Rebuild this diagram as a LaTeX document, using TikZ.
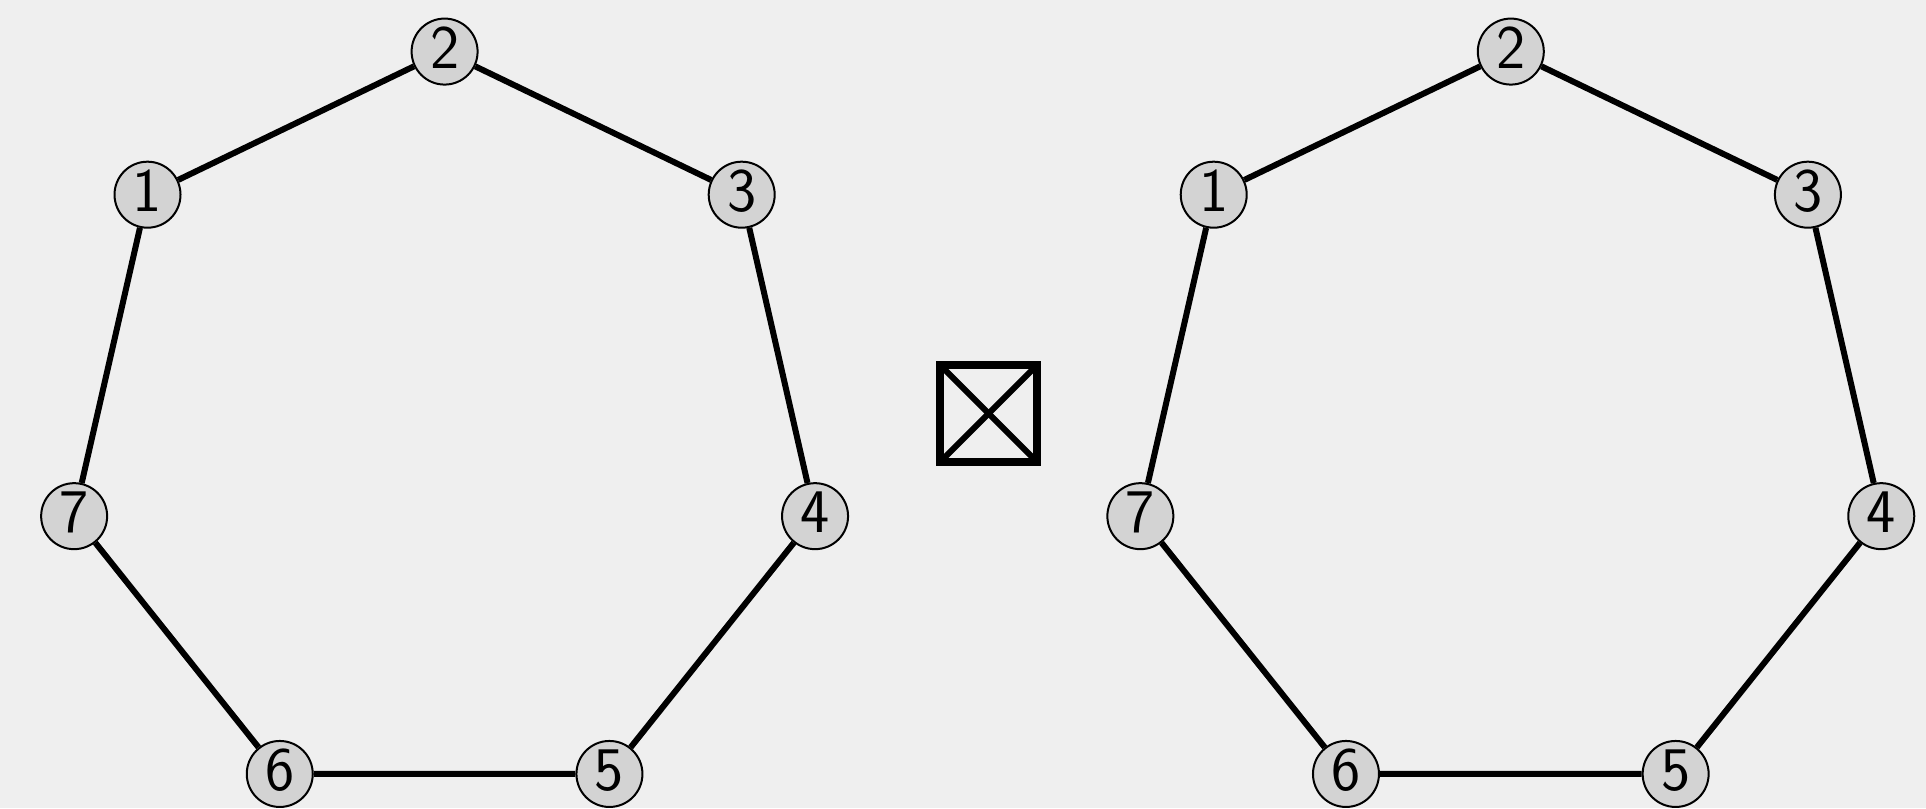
\documentclass[tikz,border=0pt]{standalone}
\usepackage{fontspec}
\definecolor{bgc}{HTML}{EFEFEF}
\definecolor{nodec}{HTML}{D3D3D3}
\tikzset{
  vtx/.style={circle, draw=black, line width=1pt, fill=nodec, minimum size=33pt, inner sep=0pt,
    text depth=4pt, font=\sffamily\fontsize{31}{34}\selectfont},
  edg/.style={line width=3pt, black},
}
\begin{document}
\begin{tikzpicture}[x=1pt,y=1pt]
\fill[bgc] (0,0) rectangle (963,404);
\useasboundingbox (0,0) rectangle (963,404);
% left graph
\node[vtx] (L2) at ([shift={(222.3,188.2)}]90:190) {2};
\node[vtx] (L1) at ([shift={(222.3,188.2)}]141.43:190) {1};
\node[vtx] (L7) at ([shift={(222.3,188.2)}]192.86:190) {7};
\node[vtx] (L6) at ([shift={(222.3,188.2)}]244.29:190) {6};
\node[vtx] (L5) at ([shift={(222.3,188.2)}]295.71:190) {5};
\node[vtx] (L4) at ([shift={(222.3,188.2)}]347.14:190) {4};
\node[vtx] (L3) at ([shift={(222.3,188.2)}]38.57:190) {3};
% right graph
\node[vtx] (R2) at ([shift={(755.4,188.2)}]90:190) {2};
\node[vtx] (R1) at ([shift={(755.4,188.2)}]141.43:190) {1};
\node[vtx] (R7) at ([shift={(755.4,188.2)}]192.86:190) {7};
\node[vtx] (R6) at ([shift={(755.4,188.2)}]244.29:190) {6};
\node[vtx] (R5) at ([shift={(755.4,188.2)}]295.71:190) {5};
\node[vtx] (R4) at ([shift={(755.4,188.2)}]347.14:190) {4};
\node[vtx] (R3) at ([shift={(755.4,188.2)}]38.57:190) {3};
\draw[edg] (L1)--(L2) (L2)--(L3) (L3)--(L4) (L4)--(L5) (L5)--(L6) (L6)--(L7) (L7)--(L1);
\draw[edg] (R1)--(R2) (R2)--(R3) (R3)--(R4) (R4)--(R5) (R5)--(R6) (R6)--(R7) (R7)--(R1);
% box-times symbol
\coordinate (bx1) at (470,173);
\coordinate (bx2) at (518.5,221.5);
\draw[line width=3pt] (bx1) -- (bx2);
\draw[line width=3pt] (bx1 |- bx2) -- (bx2 |- bx1);
\draw[line width=4pt] (bx1) rectangle (bx2);
\end{tikzpicture}
\end{document}
